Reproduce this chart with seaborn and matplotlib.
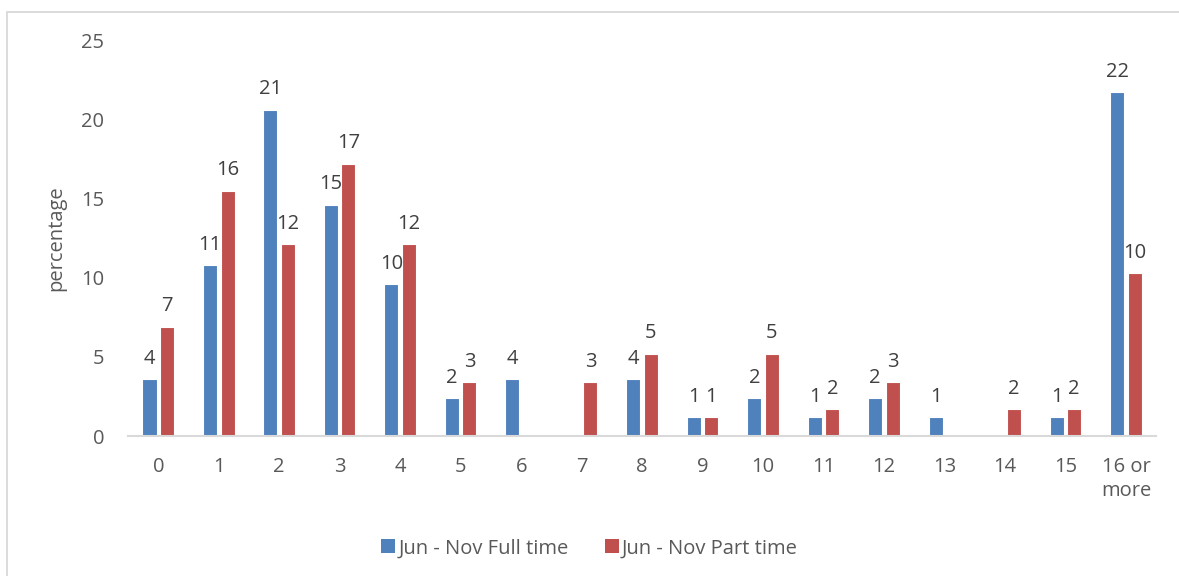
import matplotlib
matplotlib.use("Agg")
import matplotlib.pyplot as plt
from matplotlib.patches import Rectangle, Patch
import seaborn as sns
import pandas as pd

categories = ["0", "1", "2", "3", "4", "5", "6", "7", "8", "9", "10",
              "11", "12", "13", "14", "15", "16 or\nmore"]
full_time = [3.6, 10.8, 20.6, 14.6, 9.6, 2.4, 3.6, 0, 3.6, 1.2, 2.4,
             1.2, 2.4, 1.2, 0, 1.2, 21.7]
part_time = [6.9, 15.5, 12.1, 17.2, 12.1, 3.4, 0, 3.4, 5.2, 1.2, 5.2,
             1.7, 3.4, 0, 1.7, 1.7, 10.3]
series_names = ["Jun - Nov Full time", "Jun - Nov Part time"]
colors = ["#4F81BD", "#C0504D"]
y_ticks = [0, 5, 10, 15, 20, 25]

df = pd.DataFrame({
    "cat": categories * 2,
    "value": full_time + part_time,
    "series": [series_names[0]] * len(categories) + [series_names[1]] * len(categories),
})

sns.set_theme(style="white")
plt.rcParams["font.family"] = ["Open Sans", "DejaVu Sans"]

FS = 14.5

fig = plt.figure(figsize=(11.79, 5.76), dpi=100)
ax = fig.add_axes([0.1086, 0.243, 0.872, 0.6875])

sns.barplot(data=df, x="cat", y="value", hue="series", order=categories,
            hue_order=series_names, palette=colors, saturation=1,
            width=0.58, gap=0.2, edgecolor="white", linewidth=0.8,
            ax=ax, legend=False)

ax.set_ylim(0, 25)
ax.set_yticks(y_ticks)
ax.set_xlim(-0.5, len(categories) - 0.5)
ax.set_xlabel("")
ax.set_ylabel("percentage", fontsize=FS, color="#595959", labelpad=11)
ax.tick_params(axis="y", length=0, pad=17, labelsize=FS, labelcolor="#595959")
ax.tick_params(axis="x", length=0, pad=15, labelsize=FS, labelcolor="#595959")
for lbl in ax.get_xticklabels():
    lbl.set_linespacing(1.3)
    lbl.set_verticalalignment("top")

for side in ["top", "right", "left"]:
    ax.spines[side].set_visible(False)
ax.spines["bottom"].set_color("#D9D9D9")
ax.spines["bottom"].set_linewidth(1.5)

# value labels above each non-empty bar
for container in ax.containers:
    for bar in container:
        h = bar.get_height()
        if h > 0:
            ax.annotate(f"{h:.0f}", (bar.get_x() + bar.get_width() / 2, h),
                        xytext=(0, 11), textcoords="offset points",
                        ha="center", va="baseline", fontsize=FS, color="#404040")

handles = [Patch(facecolor=c, edgecolor="none") for c in colors]
fig.legend(handles, series_names, loc="center", bbox_to_anchor=(0.5, 0.048),
           ncol=2, frameon=False, fontsize=FS, labelcolor="#595959",
           handlelength=0.7, handleheight=0.7, handletextpad=0.15,
           columnspacing=1.8)

# chart-area border
fig.patches.append(Rectangle((7 / 1179, -0.1), 1.2, 1.1 - 12 / 576,
                             transform=fig.transFigure, fill=False,
                             edgecolor="#D9D9D9", linewidth=1.3))

fig.savefig("out.png", dpi=100, facecolor="white")
